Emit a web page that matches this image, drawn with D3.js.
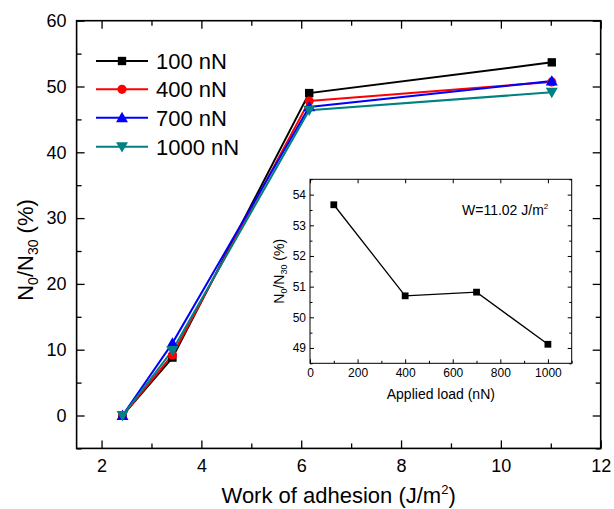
<!DOCTYPE html>
<html>
<head>
<meta charset="utf-8">
<script src="https://cdn.jsdelivr.net/npm/d3@7/dist/d3.min.js"></script>
<style>
  html, body { margin: 0; padding: 0; background: #fff; }
  svg { display: block; font-family: "Liberation Sans", Arial, sans-serif; }
</style>
</head>
<body>
<svg id="chart" width="614" height="509"></svg>
<script>
// Work of adhesion (J/m^2) for each sample
const workOfAdhesion = [2.42, 3.42, 6.16, 11.02];

// N0/N30 (%) per applied load
const loadNames = ["100 nN", "400 nN", "700 nN", "1000 nN"];
const ratio100 = [0, 8.8, 49.0, 53.67];
const ratio400 = [0, 9.2, 47.8, 50.7];
const ratio700 = [0, 11.0, 46.9, 50.82];
const ratio1000 = [0, 9.9, 46.4, 49.12];

// Inset: N0/N30 at W = 11.02 J/m^2 versus applied load
const appliedLoad = [100, 400, 700, 1000];
const ratioAtW = [53.67, 50.7, 50.82, 49.12];

// Tick values
const xMajor = [2, 4, 6, 8, 10, 12];
const xMinor = [3, 5, 7, 9, 11];
const yMajor = [0, 10, 20, 30, 40, 50, 60];
const yMinor = [-5, 5, 15, 25, 35, 45, 55];
const ixMajor = [0, 200, 400, 600, 800, 1000];
const ixMinor = [100, 300, 500, 700, 900, 1100];
const iyMajor = [49, 50, 51, 52, 53, 54];
const iyMinor = [48.5, 49.5, 50.5, 51.5, 52.5, 53.5, 54.5];

const seriesValues = [ratio100, ratio400, ratio700, ratio1000];
const colors = ["#000000", "#ff0000", "#0000ff", "#008080"];
const shapes = ["square", "circle", "up", "down"];

const svg = d3.select("#chart");

// ---------- main panel ----------
const L = 76.6, R = 600.7, T = 20.7, B = 448.4;
const x = d3.scaleLinear().domain([1.5, 12]).range([L, R]);
const y = d3.scaleLinear().domain([-5, 60]).range([B, T]);

function markerPath(shape, scale) {
  const s = scale || 1;
  if (shape === "square") return d3.symbol(d3.symbolSquare, 70 * s)();
  if (shape === "circle") return d3.symbol(d3.symbolCircle, 66 * s)();
  return d3.symbol(d3.symbolTriangle, 62 * s)();
}
function markerTransform(shape, px, py) {
  if (shape === "up") return `translate(${px},${py + 1})`;
  if (shape === "down") return `translate(${px},${py - 1}) rotate(180)`;
  return `translate(${px},${py})`;
}

function styleAxis(g, fontSize) {
  g.select(".domain").remove();
  g.selectAll("text").attr("font-size", fontSize).attr("fill", "#000")
    .style("font-family", '"Liberation Sans", Arial, sans-serif');
  g.selectAll("line").attr("stroke", "#000").attr("stroke-width", 1.3);
}

// major and minor ticks, pointing inward on all four sides
svg.append("g").attr("transform", `translate(0,${B})`)
  .call(d3.axisBottom(x).tickValues(xMajor).tickSize(-8).tickPadding(11).tickFormat(d3.format("d")))
  .call(g => styleAxis(g, 18));
svg.append("g").attr("transform", `translate(0,${B})`)
  .call(d3.axisBottom(x).tickValues(xMinor).tickSize(-5).tickFormat(""))
  .call(g => styleAxis(g, 18));
svg.append("g").attr("transform", `translate(0,${T})`)
  .call(d3.axisTop(x).tickValues(xMajor).tickSize(-8).tickFormat(""))
  .call(g => styleAxis(g, 18));
svg.append("g").attr("transform", `translate(0,${T})`)
  .call(d3.axisTop(x).tickValues(xMinor).tickSize(-5).tickFormat(""))
  .call(g => styleAxis(g, 18));
svg.append("g").attr("transform", `translate(${L},0)`)
  .call(d3.axisLeft(y).tickValues(yMajor).tickSize(-8).tickPadding(10).tickFormat(d3.format("d")))
  .call(g => styleAxis(g, 18));
svg.append("g").attr("transform", `translate(${L},0)`)
  .call(d3.axisLeft(y).tickValues(yMinor).tickSize(-5).tickFormat(""))
  .call(g => styleAxis(g, 18));
svg.append("g").attr("transform", `translate(${R},0)`)
  .call(d3.axisRight(y).tickValues(yMajor).tickSize(-8).tickFormat(""))
  .call(g => styleAxis(g, 18));
svg.append("g").attr("transform", `translate(${R},0)`)
  .call(d3.axisRight(y).tickValues(yMinor).tickSize(-5).tickFormat(""))
  .call(g => styleAxis(g, 18));

svg.append("rect").attr("x", L).attr("y", T).attr("width", R - L).attr("height", B - T)
  .attr("fill", "none").attr("stroke", "#000").attr("stroke-width", 1.6);

// series lines and markers
const line = d3.line().x((d, i) => x(workOfAdhesion[i])).y(d => y(d));
seriesValues.forEach((vals, k) => {
  svg.append("path").datum(vals).attr("d", line)
    .attr("fill", "none").attr("stroke", colors[k]).attr("stroke-width", 2);
});
seriesValues.forEach((vals, k) => {
  svg.append("g").selectAll("path").data(vals).join("path")
    .attr("d", markerPath(shapes[k]))
    .attr("transform", (d, i) => markerTransform(shapes[k], x(workOfAdhesion[i]), y(d)))
    .attr("fill", colors[k]);
});

// legend
const legendRows = [61, 89.3, 117.7, 146.7];
loadNames.forEach((name, k) => {
  const g = svg.append("g").attr("transform", `translate(0,${legendRows[k]})`);
  g.append("line").attr("x1", 96).attr("x2", 148).attr("y1", 0).attr("y2", 0)
    .attr("stroke", colors[k]).attr("stroke-width", 2);
  g.append("path").attr("d", markerPath(shapes[k]))
    .attr("transform", markerTransform(shapes[k], 122, 0)).attr("fill", colors[k]);
  g.append("text").attr("x", 156).attr("y", 0).attr("dy", "0.36em")
    .attr("font-size", 22).text(name);
});

// axis titles
const xt = svg.append("text").attr("x", (L + R) / 2).attr("y", 503)
  .attr("text-anchor", "middle").attr("font-size", 22);
xt.append("tspan").text("Work of adhesion (J/m");
xt.append("tspan").attr("font-size", 13).attr("dy", -9).text("2");
xt.append("tspan").attr("dy", 9).text(")");

const yt = svg.append("text").attr("transform", "translate(33,250) rotate(-90)")
  .attr("text-anchor", "middle").attr("font-size", 22);
yt.append("tspan").text("N");
yt.append("tspan").attr("font-size", 14).attr("dy", 5).text("0");
yt.append("tspan").attr("dy", -5).text("/N");
yt.append("tspan").attr("font-size", 14).attr("dy", 5).text("30");
yt.append("tspan").attr("dy", -5).text(" (%)");

// ---------- inset ----------
const iL = 310, iR = 571.7, iT = 179.3, iB = 363.3;
const ix = d3.scaleLinear().domain([0, 1100]).range([iL, iR]);
const iy = d3.scaleLinear().domain([48.5, 54.5]).range([iB, iT]);

svg.append("rect").attr("x", iL).attr("y", iT).attr("width", iR - iL).attr("height", iB - iT)
  .attr("fill", "#fff");

function styleInset(g) {
  g.select(".domain").remove();
  g.selectAll("text").attr("font-size", 12).attr("fill", "#000")
    .style("font-family", '"Liberation Sans", Arial, sans-serif');
  g.selectAll("line").attr("stroke", "#000").attr("stroke-width", 1);
}
svg.append("g").attr("transform", `translate(0,${iB})`)
  .call(d3.axisBottom(ix).tickValues(ixMajor).tickSize(-4).tickPadding(5).tickFormat(d3.format("d")))
  .call(styleInset);
svg.append("g").attr("transform", `translate(0,${iB})`)
  .call(d3.axisBottom(ix).tickValues(ixMinor).tickSize(-2.5).tickFormat(""))
  .call(styleInset);
svg.append("g").attr("transform", `translate(0,${iT})`)
  .call(d3.axisTop(ix).tickValues(ixMajor).tickSize(-4).tickFormat(""))
  .call(styleInset);
svg.append("g").attr("transform", `translate(${iL},0)`)
  .call(d3.axisLeft(iy).tickValues(iyMajor).tickSize(-4).tickPadding(4).tickFormat(d3.format("d")))
  .call(styleInset);
svg.append("g").attr("transform", `translate(${iL},0)`)
  .call(d3.axisLeft(iy).tickValues(iyMinor).tickSize(-2.5).tickFormat(""))
  .call(styleInset);
svg.append("g").attr("transform", `translate(${iR},0)`)
  .call(d3.axisRight(iy).tickValues(iyMajor).tickSize(-4).tickFormat(""))
  .call(styleInset);
svg.append("g").attr("transform", `translate(${iR},0)`)
  .call(d3.axisRight(iy).tickValues(iyMinor).tickSize(-2.5).tickFormat(""))
  .call(styleInset);

svg.append("rect").attr("x", iL).attr("y", iT).attr("width", iR - iL).attr("height", iB - iT)
  .attr("fill", "none").attr("stroke", "#000").attr("stroke-width", 1);

const iline = d3.line().x((d, i) => ix(appliedLoad[i])).y(d => iy(d));
svg.append("path").datum(ratioAtW).attr("d", iline)
  .attr("fill", "none").attr("stroke", "#000").attr("stroke-width", 1.3);
svg.append("g").selectAll("path").data(ratioAtW).join("path")
  .attr("d", d3.symbol(d3.symbolSquare, 46)())
  .attr("transform", (d, i) => `translate(${ix(appliedLoad[i])},${iy(d)})`)
  .attr("fill", "#000");

// inset titles and note
svg.append("text").attr("x", (iL + iR) / 2).attr("y", 399)
  .attr("text-anchor", "middle").attr("font-size", 14).text("Applied load (nN)");

const iyt = svg.append("text").attr("transform", `translate(284,${(iT + iB) / 2}) rotate(-90)`)
  .attr("text-anchor", "middle").attr("font-size", 14);
iyt.append("tspan").text("N");
iyt.append("tspan").attr("font-size", 9).attr("dy", 3).text("0");
iyt.append("tspan").attr("dy", -3).text("/N");
iyt.append("tspan").attr("font-size", 9).attr("dy", 3).text("30");
iyt.append("tspan").attr("dy", -3).text(" (%)");

const note = svg.append("text").attr("x", 462).attr("y", 215).attr("font-size", 14);
note.append("tspan").text("W=11.02 J/m");
note.append("tspan").attr("font-size", 8).attr("dy", -6).text("2");
</script>
</body>
</html>
